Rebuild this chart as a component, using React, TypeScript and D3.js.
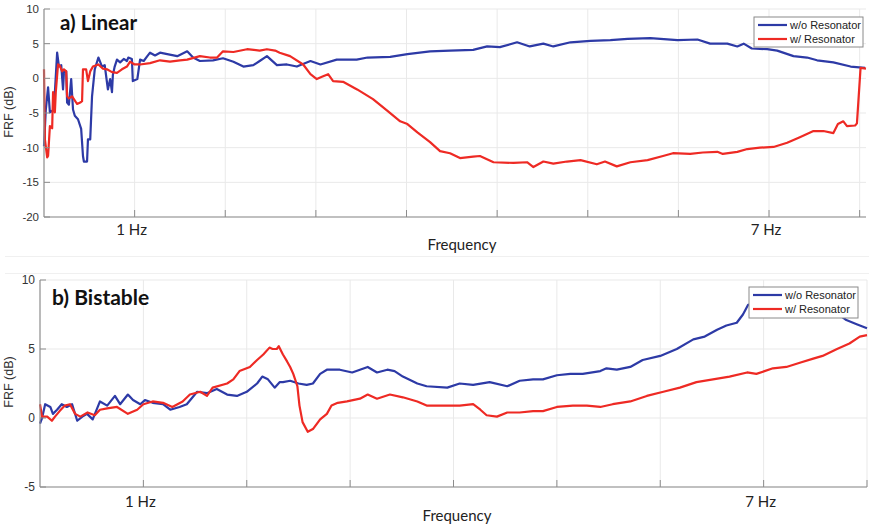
import React from "react";
import * as d3 from "d3";

// ---------- DATA ----------
// x in tick units (tick 1 = "1 Hz" ... ), y in dB
const seriesNames = ["w/o Resonator", "w/ Resonator"];

const linearWithout: [number, number][] = [
  [0.0, -9.8], [0.02, -4.5], [0.045, -1.3], [0.065, -4.9], [0.1, -4.6], [0.12, -2.0],
  [0.145, 3.7], [0.165, 1.7], [0.19, 1.9], [0.21, -1.6], [0.22, 0.9], [0.245, 1.0],
  [0.255, -3.5], [0.275, -3.8], [0.3, -0.1], [0.32, -4.5], [0.34, -5.4], [0.375, -5.9],
  [0.41, -7.3], [0.43, -11.2], [0.44, -12.0], [0.475, -12.0], [0.485, -8.8], [0.51, -8.8],
  [0.53, -2.6], [0.56, 1.3], [0.6, 3.0], [0.64, 1.7], [0.67, 1.9], [0.695, -0.6],
  [0.705, -1.6], [0.73, -0.1], [0.75, -2.0], [0.76, 0.5], [0.78, 1.7], [0.805, 2.7],
  [0.84, 2.3], [0.88, 2.8], [0.915, 2.5], [0.93, 3.0], [0.97, 2.8], [0.98, -0.4],
  [1.03, -0.1], [1.06, 2.7], [1.1, 2.5], [1.14, 3.2], [1.17, 3.7], [1.225, 3.3],
  [1.28, 3.7], [1.36, 3.5], [1.47, 3.2], [1.58, 3.9], [1.645, 3.0], [1.72, 2.5],
  [1.865, 2.6], [1.975, 2.9], [2.09, 2.4], [2.2, 1.7], [2.31, 1.9], [2.38, 2.5],
  [2.46, 3.2], [2.57, 1.9], [2.68, 2.0], [2.79, 1.7], [2.94, 2.5], [3.05, 2.0],
  [3.23, 2.7], [3.45, 2.7], [3.57, 3.0], [3.82, 3.1], [4.01, 3.5], [4.26, 3.9],
  [4.48, 4.0], [4.735, 4.1], [4.89, 4.6], [5.03, 4.5], [5.22, 5.2], [5.36, 4.6],
  [5.51, 5.0], [5.62, 4.6], [5.81, 5.2], [6.03, 5.4], [6.25, 5.5], [6.44, 5.7],
  [6.69, 5.8], [6.99, 5.5], [7.21, 5.6], [7.35, 5.0], [7.54, 5.0], [7.65, 4.6],
  [7.72, 5.0], [7.81, 4.3], [7.98, 4.2], [8.09, 4.0], [8.27, 3.2], [8.42, 3.0],
  [8.53, 2.6], [8.71, 2.3], [8.9, 1.7], [9.06, 1.5],
];

const linearWith: [number, number][] = [
  [0.0, 1.3], [0.01, -8.8], [0.035, -11.4], [0.045, -11.2], [0.065, -6.9], [0.09, -7.2],
  [0.1, -2.0], [0.12, -4.9], [0.13, -2.0], [0.155, 2.0], [0.175, 1.8], [0.2, 1.0],
  [0.22, 1.3], [0.245, 1.0], [0.255, -2.6], [0.275, -2.9], [0.31, -2.6], [0.33, -3.0],
  [0.365, -3.7], [0.4, -3.5], [0.42, -3.3], [0.43, 1.3], [0.465, 1.3], [0.485, -0.4],
  [0.51, 1.0], [0.54, 1.7], [0.6, 2.0], [0.65, 1.4], [0.695, 1.3], [0.75, 0.9],
  [0.805, 0.8], [0.86, 1.3], [0.915, 1.7], [0.95, 2.4], [1.0, 2.0], [1.06, 2.0],
  [1.17, 2.2], [1.28, 2.6], [1.39, 2.4], [1.5, 2.6], [1.58, 2.7], [1.72, 3.2],
  [1.83, 3.0], [1.91, 3.0], [1.975, 3.9], [2.09, 3.8], [2.24, 4.2], [2.38, 4.0],
  [2.46, 4.2], [2.55, 4.0], [2.6, 3.7], [2.715, 3.2], [2.86, 2.0], [2.94, 0.6],
  [3.01, -0.1], [3.08, 0.3], [3.135, 0.6], [3.19, -0.4], [3.3, -0.5], [3.455, -1.6],
  [3.63, -3.0], [3.79, -4.7], [3.93, -6.2], [4.01, -6.6], [4.12, -7.8], [4.26, -9.2],
  [4.37, -10.5], [4.48, -10.8], [4.59, -11.5], [4.735, -11.3], [4.81, -11.2], [4.96, -12.1],
  [5.18, -12.2], [5.33, -12.1], [5.4, -12.8], [5.51, -12.0], [5.62, -12.3], [5.77, -12.0],
  [5.92, -11.8], [6.1, -12.4], [6.19, -12.0], [6.32, -12.7], [6.47, -12.1], [6.66, -11.8],
  [6.83, -11.2], [6.94, -10.8], [7.13, -10.9], [7.27, -10.7], [7.43, -10.6], [7.49, -10.9],
  [7.65, -10.6], [7.76, -10.2], [7.9, -10.0], [8.05, -9.9], [8.2, -9.3], [8.34, -8.5],
  [8.49, -7.6], [8.6, -7.6], [8.71, -7.9], [8.76, -6.6], [8.82, -6.2], [8.86, -6.9],
  [8.95, -6.8], [8.97, -6.5], [9.01, 1.5], [9.07, 1.4],
];

const bistableWithout: [number, number][] = [
  [0.0, -0.4], [0.02, 0.0], [0.05, 1.0], [0.1, 0.8], [0.125, 0.3], [0.165, 0.6],
  [0.21, 1.0], [0.26, 0.8], [0.31, 1.0], [0.36, -0.2], [0.41, 0.1], [0.455, 0.3],
  [0.51, -0.1], [0.58, 1.2], [0.65, 0.9], [0.725, 1.6], [0.775, 1.0], [0.85, 1.7],
  [0.9, 1.3], [0.97, 1.0], [1.015, 1.3], [1.09, 1.1], [1.19, 1.0], [1.26, 0.6],
  [1.35, 0.8], [1.42, 1.0], [1.52, 1.9], [1.615, 1.8], [1.71, 2.1], [1.81, 1.7],
  [1.905, 1.6], [2.0, 1.9], [2.1, 2.5], [2.15, 3.0], [2.205, 2.8], [2.27, 2.2],
  [2.32, 2.6], [2.35, 2.6], [2.42, 2.7], [2.5, 2.5], [2.58, 2.4], [2.64, 2.5],
  [2.71, 3.2], [2.775, 3.5], [2.9, 3.5], [3.02, 3.3], [3.095, 3.5], [3.17, 3.7],
  [3.26, 3.3], [3.36, 3.5], [3.43, 3.4], [3.51, 3.0], [3.65, 2.5], [3.74, 2.3],
  [3.94, 2.2], [4.06, 2.5], [4.19, 2.4], [4.35, 2.6], [4.52, 2.3], [4.64, 2.7],
  [4.77, 2.8], [4.865, 2.8], [5.0, 3.1], [5.13, 3.2], [5.25, 3.2], [5.42, 3.4],
  [5.48, 3.6], [5.58, 3.5], [5.71, 3.7], [5.83, 4.2], [6.0, 4.5], [6.16, 5.0],
  [6.32, 5.7], [6.43, 5.9], [6.55, 6.4], [6.64, 6.7], [6.74, 6.9], [6.8, 7.5],
  [6.85, 8.2], [6.91, 8.3], [7.06, 8.0], [7.35, 7.9], [7.59, 7.8], [7.71, 7.6],
  [7.8, 7.1], [7.9, 6.8], [8.0, 6.5],
];

const bistableWith: [number, number][] = [
  [0.0, 1.0], [0.02, 0.1], [0.07, 0.1], [0.115, -0.2], [0.145, 0.1], [0.19, 0.5],
  [0.24, 0.9], [0.29, 1.0], [0.34, 0.3], [0.39, 0.1], [0.46, 0.4], [0.53, 0.2],
  [0.58, 0.6], [0.65, 0.7], [0.745, 0.8], [0.85, 0.3], [0.94, 0.6], [1.0, 1.0],
  [1.09, 1.2], [1.19, 1.1], [1.28, 0.8], [1.38, 1.2], [1.45, 1.7], [1.55, 1.9],
  [1.615, 1.6], [1.67, 2.2], [1.81, 2.5], [1.87, 2.8], [1.93, 3.4], [2.03, 3.7],
  [2.1, 4.2], [2.16, 4.6], [2.22, 5.1], [2.25, 5.0], [2.29, 5.0], [2.31, 5.2],
  [2.35, 4.6], [2.39, 4.1], [2.42, 3.7], [2.45, 3.2], [2.49, 2.3], [2.51, 0.9],
  [2.54, -0.3], [2.59, -1.0], [2.64, -0.8], [2.71, -0.1], [2.775, 0.3], [2.82, 0.9],
  [2.88, 1.1], [2.97, 1.2], [3.095, 1.4], [3.17, 1.7], [3.26, 1.4], [3.385, 1.7],
  [3.51, 1.5], [3.65, 1.2], [3.74, 0.9], [3.94, 0.9], [4.06, 0.9], [4.19, 1.0],
  [4.26, 0.6], [4.32, 0.2], [4.42, 0.1], [4.52, 0.4], [4.64, 0.4], [4.77, 0.5],
  [4.865, 0.5], [5.0, 0.8], [5.155, 0.9], [5.29, 0.9], [5.42, 0.8], [5.54, 1.0],
  [5.71, 1.2], [5.87, 1.6], [6.03, 1.9], [6.19, 2.2], [6.35, 2.6], [6.51, 2.8],
  [6.67, 3.0], [6.84, 3.3], [6.93, 3.2], [7.09, 3.6], [7.22, 3.7], [7.35, 4.0],
  [7.48, 4.3], [7.57, 4.5], [7.71, 5.0], [7.83, 5.4], [7.93, 5.9], [8.0, 6.0],
];

const xTicksA = [1, 2, 3, 4, 5, 6, 7, 8, 9];
const xTickLabelsA = ["1 Hz", "", "", "", "", "", "", "7 Hz", ""];
const yTicksA = [-20, -15, -10, -5, 0, 5, 10];
const xTicksB = [1, 2, 3, 4, 5, 6, 7, 8];
const xTickLabelsB = ["1 Hz", "", "", "", "", "", "7 Hz", ""];
const yTicksB = [-5, 0, 5, 10];

const BLUE = "#2d3aa6";
const RED = "#ee2a24";
const AXIS = "#8c8c8c";
const GRID = "#e9e9e9";
const LABEL_FONT = "Lato, 'Open Sans', sans-serif";
const NUM_FONT = "'Liberation Sans', Arial, sans-serif";

type PanelProps = {
  title: string;
  xDomain: [number, number];
  xRange: [number, number];
  yDomain: [number, number];
  yRange: [number, number];
  xTicks: number[];
  xLabels: string[];
  yTicks: number[];
  without: [number, number][];
  withR: [number, number][];
  yFont: number;
  titleX: number;
  titleY: number;
  titleSize: number;
  xLabelY: number;
  freqY: number;
  freqX: number;
  yLabelY: number;
  legend: { x: number; y: number; w: number; h: number };
};

function Panel(p: PanelProps) {
  const x = d3.scaleLinear().domain(p.xDomain).range(p.xRange);
  const y = d3.scaleLinear().domain(p.yDomain).range(p.yRange);
  const line = d3
    .line<[number, number]>()
    .x((d) => x(d[0]))
    .y((d) => y(d[1]));
  const [x0, x1] = p.xRange;
  const [yb, yt] = p.yRange;
  const lg = p.legend;
  return (
    <g>
      {p.yTicks.map((t) => (
        <line key={"gy" + t} x1={x0} x2={x1} y1={y(t)} y2={y(t)} stroke={GRID} strokeWidth={1} />
      ))}
      {p.xTicks.map((t) => (
        <line key={"gx" + t} x1={x(t)} x2={x(t)} y1={yt} y2={yb} stroke={GRID} strokeWidth={1} />
      ))}
      <path d={line(p.without) || ""} fill="none" stroke={BLUE} strokeWidth={2.2} strokeLinejoin="round" />
      <path d={line(p.withR) || ""} fill="none" stroke={RED} strokeWidth={2.2} strokeLinejoin="round" />
      <line x1={x0} x2={x0} y1={yt} y2={yb} stroke={AXIS} strokeWidth={1.2} />
      <line x1={x0} x2={x1} y1={yb} y2={yb} stroke={AXIS} strokeWidth={1.2} />
      {p.yTicks.map((t) => (
        <g key={"ty" + t}>
          <line x1={x0} x2={x0 + 6} y1={y(t)} y2={y(t)} stroke={AXIS} strokeWidth={1} />
          <text
            x={x0 - 5}
            y={y(t)}
            dy="0.35em"
            textAnchor="end"
            fontFamily={NUM_FONT}
            fontSize={p.yFont}
            fill="#333"
          >
            {t}
          </text>
        </g>
      ))}
      {p.xTicks.map((t, i) => (
        <g key={"tx" + t}>
          <line x1={x(t)} x2={x(t)} y1={yb} y2={yb - 7} stroke={AXIS} strokeWidth={1} />
          {p.xLabels[i] ? (
            <text
              x={x(t) - 3}
              y={p.xLabelY}
              textAnchor="middle"
              fontFamily={LABEL_FONT}
              fontSize={15}
              fill="#222"
            >
              {p.xLabels[i]}
            </text>
          ) : null}
        </g>
      ))}
      <text x={p.freqX} y={p.freqY} textAnchor="middle" fontFamily={LABEL_FONT} fontSize={15} fill="#222">
        Frequency
      </text>
      <text
        transform={`translate(13,${p.yLabelY}) rotate(-90)`}
        textAnchor="middle"
        fontFamily={NUM_FONT}
        fontSize={12.5}
        fill="#333"
      >
        FRF (dB)
      </text>
      <text
        x={p.titleX}
        y={p.titleY}
        fontFamily={LABEL_FONT}
        fontWeight="bold"
        fontSize={p.titleSize}
        fill="#111"
      >
        {p.title}
      </text>
      <rect x={lg.x} y={lg.y} width={lg.w} height={lg.h} fill="#fff" stroke="#8a8a8a" strokeWidth={1} />
      {seriesNames.map((n, i) => (
        <g key={n}>
          <line
            x1={lg.x + 4}
            x2={lg.x + 33}
            y1={lg.y + 8 + i * 14}
            y2={lg.y + 8 + i * 14}
            stroke={i === 0 ? BLUE : RED}
            strokeWidth={2.2}
          />
          <text
            x={lg.x + 36}
            y={lg.y + 8 + i * 14}
            dy="0.35em"
            fontFamily={NUM_FONT}
            fontSize={11}
            fill="#222"
          >
            {n}
          </text>
        </g>
      ))}
    </g>
  );
}

export default function App() {
  return (
    <svg
      width={869}
      height={529}
      style={{ position: "absolute", left: 0, top: 0, background: "#fff" }}
    >
      <rect x={0} y={0} width={869} height={529} fill="#fff" />
      <line x1={5} x2={869} y1={256.5} y2={256.5} stroke="#f0f0f0" strokeWidth={1} />
      <line x1={5} x2={869} y1={273.5} y2={273.5} stroke="#f0f0f0" strokeWidth={1} />
      <Panel
        title="a) Linear"
        xDomain={[0, 9.07]}
        xRange={[44, 866]}
        yDomain={[-20, 10]}
        yRange={[217, 9]}
        xTicks={xTicksA}
        xLabels={xTickLabelsA}
        yTicks={yTicksA}
        without={linearWithout}
        withR={linearWith}
        yFont={11.5}
        titleX={60}
        titleY={30}
        titleSize={20.5}
        xLabelY={235}
        freqX={462}
        freqY={250}
        yLabelY={112}
        legend={{ x: 754, y: 17, w: 109, h: 30 }}
      />
      <Panel
        title="b) Bistable"
        xDomain={[0, 8]}
        xRange={[40, 867]}
        yDomain={[-5, 10]}
        yRange={[487, 280]}
        xTicks={xTicksB}
        xLabels={xTickLabelsB}
        yTicks={yTicksB}
        without={bistableWithout}
        withR={bistableWith}
        yFont={12}
        titleX={52}
        titleY={305}
        titleSize={21}
        xLabelY={507}
        freqX={457}
        freqY={521}
        yLabelY={382}
        legend={{ x: 749, y: 287, w: 109, h: 31 }}
      />
    </svg>
  );
}
